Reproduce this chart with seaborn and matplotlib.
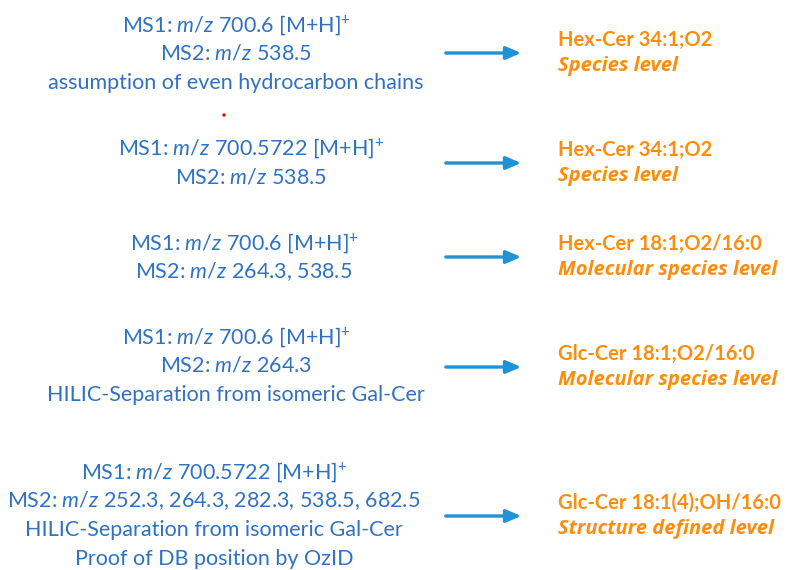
import matplotlib
matplotlib.use("Agg")
import matplotlib.pyplot as plt
import seaborn as sns
import pandas as pd

# --- Content ---
MZ = r"$\mathit{m/z}$"
PLUS = r"$^{+}$"
left_lines = [
    [f"MS1: {MZ} 700.6 [M+H]{PLUS}", f"MS2: {MZ} 538.5",
     "assumption of even hydrocarbon chains"],
    [f"MS1: {MZ} 700.5722 [M+H]{PLUS}", f"MS2: {MZ} 538.5"],
    [f"MS1: {MZ} 700.6 [M+H]{PLUS}", f"MS2: {MZ} 264.3, 538.5"],
    [f"MS1: {MZ} 700.6 [M+H]{PLUS}", f"MS2: {MZ} 264.3",
     "HILIC-Separation from isomeric Gal-Cer"],
    [f"MS1: {MZ} 700.5722 [M+H]{PLUS}",
     f"MS2: {MZ} 252.3, 264.3, 282.3, 538.5, 682.5",
     "HILIC-Separation from isomeric Gal-Cer",
     "Proof of DB position by OzID"],
]
lipid_names = ["Hex-Cer 34:1;O2", "Hex-Cer 34:1;O2", "Hex-Cer 18:1;O2/16:0",
               "Glc-Cer 18:1;O2/16:0", "Glc-Cer 18:1(4);OH/16:0"]
levels = ["Species level", "Species level", "Molecular species level",
          "Molecular species level", "Structure defined level"]

# --- Layout (pixels, y from top) ---
left_x = [236, 251, 244, 236, 214]
left_y0 = [25, 148, 243, 337, 472]
line_gap = 29
arrow_y = [53, 163, 257, 367, 516]
arrow_x0, arrow_x1 = 443, 524
right_x = 558
right_gap = 26

TEXT_BLUE = "#2f72c4"
ARROW_BLUE = "#1f93d6"
ORANGE = "#ff8c0a"

sns.set_theme(style="white")
plt.rcParams['font.family'] = ['Lato', 'DejaVu Sans']
plt.rcParams['mathtext.fontset'] = 'custom'
plt.rcParams['mathtext.rm'] = 'Lato'
plt.rcParams['mathtext.it'] = 'Lato:italic'

fig = plt.figure(figsize=(7.91, 5.70), dpi=100)
ax = fig.add_axes([0, 0, 1, 1])
ax.set_xlim(0, 791)
ax.set_ylim(570, 0)
ax.axis("off")

for i, lines in enumerate(left_lines):
    for j, txt in enumerate(lines):
        ax.text(left_x[i], left_y0[i] + j * line_gap, txt, ha="center", va="center",
                fontsize=15.5, color=TEXT_BLUE)
    ax.annotate("", xy=(arrow_x1, arrow_y[i]), xytext=(arrow_x0, arrow_y[i]),
                arrowprops=dict(arrowstyle="-|>,head_length=0.75,head_width=0.32",
                                color=ARROW_BLUE, lw=2.4))
    ax.text(right_x, arrow_y[i] - right_gap / 2, lipid_names[i], ha="left", va="center",
            fontsize=14.5, color=ORANGE, fontweight="bold")
    ax.text(right_x, arrow_y[i] + right_gap / 2, levels[i], ha="left", va="center",
            fontsize=14.5, color=ORANGE, fontweight="bold", fontstyle="italic",
            family=["Open Sans", "Lato"])

# small red mark present in the source figure
dot = pd.DataFrame({"x": [224], "y": [115]})
sns.scatterplot(data=dot, x="x", y="y", ax=ax, color="red", s=6, edgecolor="none", legend=False)

fig.savefig("out.png", dpi=100, facecolor="white")
